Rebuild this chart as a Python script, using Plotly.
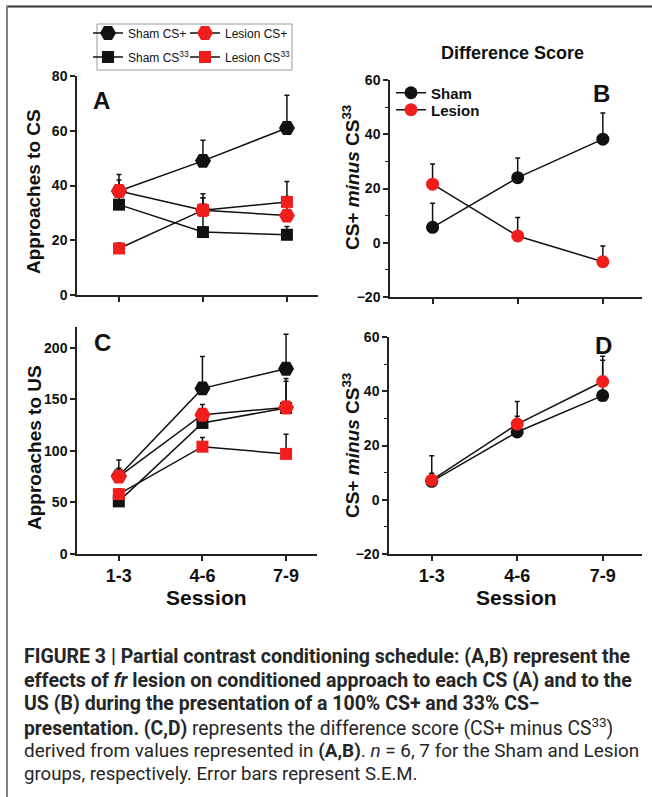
import plotly.graph_objects as go

W, H = 652, 797

sessions = ["1-3", "4-6", "7-9"]

# Panel A: approaches to CS
a_sham_csplus = [38, 49, 61]
a_sham_csplus_err = [6, 7.5, 12]
a_sham_cs33 = [33, 23, 22]
a_sham_cs33_err = [3, 12.5, 3]
a_lesion_csplus = [38, 31, 29]
a_lesion_csplus_err = [4, 6, 7]
a_lesion_cs33 = [17, 31, 34]
a_lesion_cs33_err = [2, 4.5, 7.5]

# Panel B: difference score (CS)
b_sham = [5.7, 24, 38.2]
b_sham_err = [8.9, 7.2, 9.6]
b_lesion = [21.6, 2.5, -7]
b_lesion_err = [7.4, 6.8, 5.8]

# Panel C: approaches to US
c_sham_csplus = [75.5, 160.5, 179.5]
c_sham_csplus_err = [15.5, 31, 33.5]
c_sham_cs33 = [51, 127, 141.5]
c_sham_cs33_err = [5, 8, 26]
c_lesion_csplus = [75, 135, 142]
c_lesion_csplus_err = [8, 10, 28]
c_lesion_cs33 = [58, 104, 97]
c_lesion_cs33_err = [5, 9, 19]

# Panel D: difference score (US)
d_sham = [6.8, 25, 38.4]
d_sham_err = [3, 5.8, 13]
d_lesion = [7.2, 27.9, 43.6]
d_lesion_err = [9, 8.3, 9.3]

BLACK = "#111111"
RED = "#f21d1d"
FONT = "Arial, Liberation Sans, sans-serif"


def px_x(p):
    return p / W


def px_y(p):
    return 1 - p / H


def err(arr):
    return dict(type="data", array=arr, arrayminus=[0] * len(arr), symmetric=False,
                color=BLACK, thickness=1.5, width=2.5)


def trace(y, e, color, symbol, size, name, xa, ya, legend=None):
    return go.Scatter(
        x=sessions, y=y, mode="lines+markers", name=name,
        line=dict(color=BLACK, width=1.5),
        marker=dict(color=color, symbol=symbol, size=size, line=dict(width=0)),
        error_y=err(e), xaxis=xa, yaxis=ya,
        showlegend=legend is not None, legend=legend if legend else "legend",
    )


fig = go.Figure()
# Panel A
fig.add_trace(trace(a_sham_csplus, a_sham_csplus_err, BLACK, "hexagon2", 16, "Sham CS+", "x", "y", "legend"))
fig.add_trace(trace(a_sham_cs33, a_sham_cs33_err, BLACK, "square", 12, "Sham CS<sup>33</sup>", "x", "y", "legend2"))
fig.add_trace(trace(a_lesion_csplus, a_lesion_csplus_err, RED, "hexagon2", 16, "Lesion CS+", "x", "y", "legend3"))
fig.add_trace(trace(a_lesion_cs33, a_lesion_cs33_err, RED, "square", 12, "Lesion CS<sup>33</sup>", "x", "y", "legend4"))
# Panel B
fig.add_trace(trace(b_sham, b_sham_err, BLACK, "circle", 13, "<b>Sham</b>", "x2", "y2", "legend5"))
fig.add_trace(trace(b_lesion, b_lesion_err, RED, "circle", 13, "<b>Lesion</b>", "x2", "y2", "legend6"))
# Panel C
fig.add_trace(trace(c_sham_csplus, c_sham_csplus_err, BLACK, "hexagon2", 16, "Sham CS+", "x3", "y3"))
fig.add_trace(trace(c_sham_cs33, c_sham_cs33_err, BLACK, "square", 12, "Sham CS33", "x3", "y3"))
fig.add_trace(trace(c_lesion_csplus, c_lesion_csplus_err, RED, "hexagon2", 16, "Lesion CS+", "x3", "y3"))
fig.add_trace(trace(c_lesion_cs33, c_lesion_cs33_err, RED, "square", 12, "Lesion CS33", "x3", "y3"))
# Panel D
fig.add_trace(trace(d_sham, d_sham_err, BLACK, "circle", 13, "Sham", "x4", "y4"))
fig.add_trace(trace(d_lesion, d_lesion_err, RED, "circle", 13, "Lesion", "x4", "y4"))

axis_common = dict(showline=True, linecolor="#222", linewidth=1.5, ticks="outside",
                   ticklen=5, tickwidth=1.5, tickcolor="#222", showgrid=False,
                   zeroline=False, automargin=False,
                   tickfont=dict(family=FONT, size=14, color="#111", weight="bold"))


def xaxis(x0, x1, anchor, rng, labels):
    d = dict(axis_common)
    d.update(domain=[px_x(x0), px_x(x1)], anchor=anchor, type="category",
             range=rng, showticklabels=labels,
             tickfont=dict(family=FONT, size=18, color="#111", weight="bold"))
    return d


def yaxis(top, bottom, anchor, rng, dtick, minor=None):
    d = dict(axis_common)
    d.update(domain=[px_y(bottom), px_y(top)], anchor=anchor, range=rng, dtick=dtick)
    if minor:
        d["minor"] = dict(dtick=minor, ticks="outside", ticklen=3, tickwidth=1.2, tickcolor="#222")
    return d


annotations = []


def ann(text, x, y, size, bold=True, angle=0, xanchor="center", color="#111"):
    annotations.append(dict(text=text, x=px_x(x), y=px_y(y), xref="paper", yref="paper",
                            showarrow=False, xanchor=xanchor, yanchor="middle", textangle=angle,
                            font=dict(family=FONT, size=size, color=color,
                                      weight="bold" if bold else "normal")))


ann("Approaches to CS", 34, 192, 19, angle=-90)
ann("Approaches to US", 34, 448, 19, angle=-90)
ann("CS+ <i>minus</i> CS<sup>33</sup>", 351, 178, 19, angle=-90)
ann("CS+ <i>minus</i> CS<sup>33</sup>", 351, 446, 19, angle=-90)
ann("Session", 206, 597, 21)
ann("Session", 516, 597, 21)
ann("A", 101, 101, 24)
ann("B", 601, 93, 24)
ann("C", 102, 342, 24)
ann("D", 603, 345, 24)
ann("Difference Score", 512, 53, 18)

CAP = "Roboto, Arial, sans-serif"
caption = [
    ("<b>FIGURE 3 | Partial contrast conditioning schedule: (A,B) represent the</b>", 656, 19.5),
    ("<b>effects of <i>fr</i> lesion on conditioned approach to each CS (A) and to the</b>", 680, 19.6),
    ("<b>US (B) during the presentation of a 100% CS+ and 33% CS−</b>", 703, 19.5),
    ("<b>presentation. (C,D)</b> represents the difference score (CS+ minus CS<sup>33</sup>)", 727, 19.3),
    ("derived from values represented in <b>(A,B)</b>. <i>n</i> = 6, 7 for the Sham and Lesion", 750, 18.9),
    ("groups, respectively. Error bars represent S.E.M.", 774, 18.6),
]
for txt, yy, sz in caption:
    annotations.append(dict(text=txt, x=px_x(22), y=px_y(yy), xref="paper", yref="paper",
                            showarrow=False, xanchor="left", yanchor="middle",
                            font=dict(family=CAP, size=sz, color="#262626")))

shapes = [
    dict(type="line", xref="paper", yref="paper", x0=px_x(6), x1=1, y0=px_y(6.5), y1=px_y(6.5),
         line=dict(color="#333", width=2)),
    dict(type="line", xref="paper", yref="paper", x0=px_x(7), x1=px_x(7), y0=px_y(6), y1=0,
         line=dict(color="#808080", width=2)),
    dict(type="rect", xref="paper", yref="paper", x0=px_x(97), x1=px_x(292), y0=px_y(70), y1=px_y(24),
         line=dict(color="#999", width=1)),
]

legend_common = dict(bgcolor="rgba(0,0,0,0)", borderwidth=0, xanchor="left", yanchor="middle",
                     itemwidth=30, tracegroupgap=0, orientation="v")
small = dict(family=FONT, size=12, color="#111")
big = dict(family=FONT, size=15, color="#111")

fig.update_layout(
    width=W, height=H, margin=dict(l=0, r=0, t=0, b=0, autoexpand=False),
    paper_bgcolor="white", plot_bgcolor="white",
    font=dict(family=FONT, color="#111"),
    xaxis=xaxis(77, 318, "y", [-0.5, 2.37], False),
    yaxis=yaxis(76, 295, "x", [0, 80], 20),
    xaxis2=xaxis(390, 642, "y2", [-0.5, 2.46], False),
    yaxis2=yaxis(80, 297, "x2", [-20, 60], 20, 10),
    xaxis3=xaxis(77, 317, "y3", [-0.5, 2.37], True),
    yaxis3=yaxis(327, 554, "x3", [0, 220], 50),
    xaxis4=xaxis(389, 642, "y4", [-0.5, 2.46], True),
    yaxis4=yaxis(337, 554, "x4", [-20, 60], 20, 10),
    legend=dict(legend_common, x=px_x(88), y=px_y(33), font=small),
    legend2=dict(legend_common, x=px_x(88), y=px_y(57), font=small),
    legend3=dict(legend_common, x=px_x(185), y=px_y(33), font=small),
    legend4=dict(legend_common, x=px_x(185), y=px_y(57), font=small),
    legend5=dict(legend_common, x=px_x(391), y=px_y(93), font=big),
    legend6=dict(legend_common, x=px_x(391), y=px_y(110), font=big),
    annotations=annotations,
    shapes=shapes,
)

fig.write_html(
    "out.html",
    config={"displayModeBar": False},
    post_script="document.body.style.margin='0px';document.body.style.padding='0px';"
                "document.documentElement.style.overflow='hidden';",
)
